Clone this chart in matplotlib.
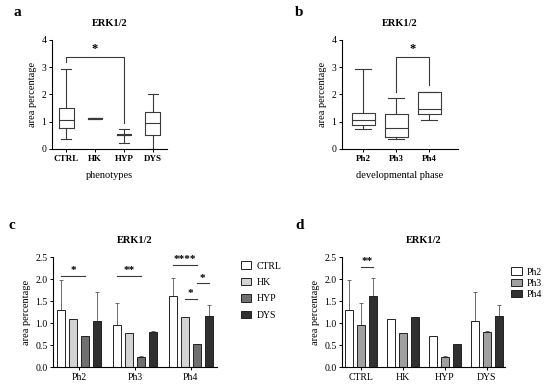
import matplotlib
matplotlib.use('Agg')
import matplotlib.pyplot as plt
import numpy as np

plt.rcParams['font.family'] = ['Liberation Serif', 'DejaVu Serif']
plt.rcParams['axes.linewidth'] = 0.8

# panel a: box plot by phenotype
phenotypes = ['CTRL', 'HK', 'HYP', 'DYS']
a_whislo = [0.35, 1.11, 0.22, 0.0]
a_q1 = [0.78, 1.11, 0.52, 0.53]
a_med = [1.07, 1.12, 0.53, 0.95]
a_q3 = [1.52, 1.13, 0.55, 1.37]
a_whishi = [2.92, 1.13, 0.72, 2.0]

# panel b: box plot by developmental phase
phases = ['Ph2', 'Ph3', 'Ph4']
b_whislo = [0.73, 0.35, 1.07]
b_q1 = [0.88, 0.43, 1.27]
b_med = [1.05, 0.77, 1.45]
b_q3 = [1.32, 1.28, 2.08]
b_whishi = [2.92, 1.87, 2.10]

# panels c/d: mean area percentage (rows: phenotype, cols: phase)
means = {
    'CTRL': [1.30, 0.95, 1.62],
    'HK': [1.09, 0.78, 1.13],
    'HYP': [0.71, 0.23, 0.53],
    'DYS': [1.05, 0.80, 1.15],
}
errs = {
    'CTRL': [0.68, 0.51, 0.41],
    'HK': [0.0, 0.0, 0.0],
    'HYP': [0.0, 0.02, 0.0],
    'DYS': [0.66, 0.03, 0.25],
}
pheno_colors = ['white', '#d3d3d3', '#6f6f6f', '#303030']
phase_colors = ['white', '#a0a0a0', '#303030']

# significance: (group, bar_i, bar_j, y, label)
c_sig = [(0, 0, 2, 2.07, '*'), (1, 0, 2, 2.07, '**'), (2, 0, 2, 2.32, '****'),
         (2, 1, 2, 1.55, '*'), (2, 2, 3, 1.90, '*')]
d_sig = [(0, 1, 2, 2.27, '**')]

fig = plt.figure(figsize=(5.5, 3.88), dpi=100)

title_kw = dict(fontsize=7.5, fontweight='bold', pad=10)
lab_fs = 7.5
tick_fs = 7


def style(ax):
    ax.spines['top'].set_visible(False)
    ax.spines['right'].set_visible(False)
    ax.tick_params(labelsize=tick_fs, length=2.5, width=0.7, pad=1.5)


def boxes(ax, names, lo, q1, med, q3, hi, width):
    stats = [dict(label=n, whislo=lo[i], q1=q1[i], med=med[i], q3=q3[i], whishi=hi[i])
             for i, n in enumerate(names)]
    lp = dict(color='#3a3a3a', linewidth=0.8)
    ax.bxp(stats, positions=range(len(names)), widths=width, showfliers=False,
           boxprops=lp, medianprops=lp, whiskerprops=lp, capprops=lp,
           capwidths=width * 0.7)
    ax.set_ylim(0, 4)
    ax.set_yticks([0, 1, 2, 3, 4])
    for t in ax.get_xticklabels():
        t.set_fontweight('bold')


def bracket(ax, x1, x2, y1, y2, top, text):
    ax.plot([x1, x1, x2, x2], [y1, top, top, y2], color='#3a3a3a', lw=0.8)
    ax.text((x1 + x2) / 2, top + 0.08, text, ha='center', va='bottom', fontsize=9,
            fontweight='bold')


# ---- a
ax = fig.add_axes([0.0945, 0.616, 0.209, 0.281])
boxes(ax, phenotypes, a_whislo, a_q1, a_med, a_q3, a_whishi, 0.5)
ax.set_xlim(-0.5, 3.5)
style(ax)
ax.set_title('ERK1/2', **title_kw)
ax.set_ylabel('area percentage', fontsize=lab_fs, labelpad=3)
ax.set_xlabel('phenotypes', fontsize=lab_fs, labelpad=6)
bracket(ax, 0, 2, 3.2, 0.95, 3.38, '*')
ax.tick_params(axis='x', labelsize=6.5)

# ---- b
ax = fig.add_axes([0.622, 0.616, 0.211, 0.281])
boxes(ax, phases, b_whislo, b_q1, b_med, b_q3, b_whishi, 0.7)
ax.set_xlim(-0.64, 2.88)
style(ax)
ax.set_title('ERK1/2', **title_kw)
ax.set_ylabel('area percentage', fontsize=lab_fs, labelpad=3)
ax.set_xlabel('developmental phase', fontsize=lab_fs, labelpad=6)
bracket(ax, 1, 2, 2.1, 2.35, 3.38, '*')
ax.tick_params(axis='x', labelsize=6.5)


def bars(ax, groups, series, vals, err, colors, step, width, sig):
    x = np.arange(len(groups))
    n = len(series)
    for k, s in enumerate(series):
        off = (k - (n - 1) / 2) * step
        ax.bar(x + off, vals[k], width, color=colors[k], edgecolor='#222222',
               linewidth=0.7, label=s, zorder=2)
        e = np.array(err[k])
        ax.errorbar(x + off, vals[k], yerr=[np.zeros_like(e), e], fmt='none',
                    ecolor='#555555', elinewidth=0.6, capsize=1.5, capthick=0.6, zorder=1)
    for g, i, j, y, t in sig:
        xi = g + (i - (n - 1) / 2) * step
        xj = g + (j - (n - 1) / 2) * step
        ax.plot([xi, xj], [y, y], color='#3a3a3a', lw=0.8)
        ax.text((xi + xj) / 2, y + 0.02, t, ha='center', va='bottom', fontsize=8,
                fontweight='bold')
    ax.set_xticks(x)
    ax.set_xticklabels(groups)
    ax.set_ylim(0, 2.5)
    ax.set_yticks([0, 0.5, 1.0, 1.5, 2.0, 2.5])
    ax.set_yticklabels(['0.0', '0.5', '1.0', '1.5', '2.0', '2.5'])
    style(ax)
    ax.set_title('ERK1/2', **title_kw)
    ax.set_ylabel('area percentage', fontsize=lab_fs, labelpad=3)


# ---- c (grouped by phase)
ax = fig.add_axes([0.0964, 0.054, 0.298, 0.2835])
c_vals = [means[p] for p in phenotypes]
c_err = [errs[p] for p in phenotypes]
bars(ax, phases, phenotypes, c_vals, c_err, pheno_colors, 0.214, 0.143, c_sig)
ax.set_xlim(-0.47, 2.47)
ax.legend(loc='upper left', bbox_to_anchor=(1.145, 0.96), frameon=False, fontsize=7,
          handlelength=1.1, handleheight=0.8, labelspacing=0.75, handletextpad=0.5,
          borderaxespad=0, borderpad=0)

# ---- d (grouped by phenotype)
ax = fig.add_axes([0.622, 0.054, 0.296, 0.2835])
d_vals = [[means[p][k] for p in phenotypes] for k in range(len(phases))]
d_err = [[errs[p][k] for p in phenotypes] for k in range(len(phases))]
bars(ax, phenotypes, phases, d_vals, d_err, phase_colors, 0.28, 0.19, d_sig)
ax.set_xlim(-0.45, 3.43)
ax.legend(loc='upper left', bbox_to_anchor=(1.04, 0.905), frameon=False, fontsize=7,
          handlelength=1.1, handleheight=0.8, labelspacing=0.2, handletextpad=0.5,
          borderaxespad=0, borderpad=0)

# panel letters
for lx, ly, s in [(0.031, 0.969, 'a'), (0.544, 0.969, 'b'), (0.022, 0.418, 'c'), (0.545, 0.418, 'd')]:
    fig.text(lx, ly, s, fontsize=11, fontweight='bold', ha='center', va='center')

fig.savefig('out.png', dpi=100)
